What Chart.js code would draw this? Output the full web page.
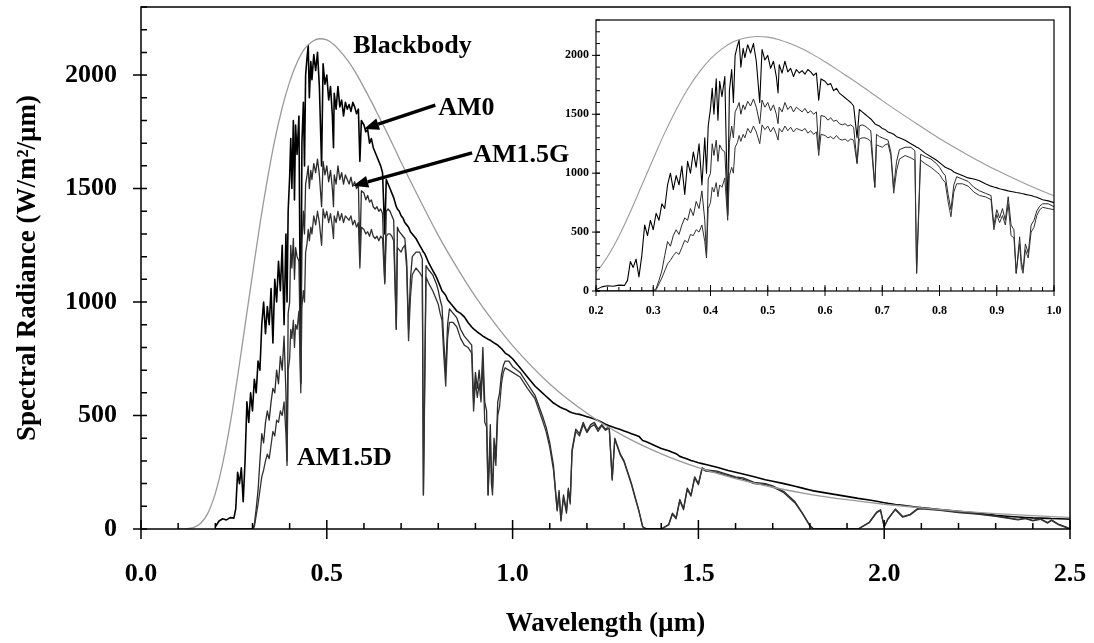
<!DOCTYPE html>
<html>
<head>
<meta charset="utf-8">
<title>Solar spectrum</title>
<script src="https://cdn.jsdelivr.net/npm/chart.js@4.4.0/dist/chart.umd.min.js"></script>
<style>
  html, body { margin: 0; padding: 0; background: #fff; }
  #wrap { position: relative; width: 1094px; height: 643px; }
  #main { position: absolute; left: 0; top: 0; }
  #inset { position: absolute; left: 540px; top: 10px; }
</style>
</head>
<body>
<div id="wrap">
  <canvas id="main" width="1094" height="643"></canvas>
  <canvas id="inset" width="525" height="320"></canvas>
</div>
<script>
// wavelength grid (µm) shared by the three measured spectra
const wavelength = [
  0.20, 0.21, 0.22, 0.23, 0.24, 0.25, 0.255, 0.26, 0.265, 0.27,
  0.275, 0.28, 0.285, 0.29, 0.295, 0.30, 0.305, 0.31, 0.315, 0.32,
  0.325, 0.33, 0.335, 0.34, 0.345, 0.35, 0.355, 0.36, 0.365, 0.37,
  0.375, 0.38, 0.385, 0.39, 0.393, 0.396, 0.40, 0.403, 0.406, 0.41,
  0.413, 0.416, 0.42, 0.425, 0.43, 0.433, 0.437, 0.44, 0.443, 0.447,
  0.45, 0.453, 0.457, 0.46, 0.465, 0.47, 0.475, 0.48, 0.486, 0.49,
  0.495, 0.50, 0.505, 0.51, 0.515, 0.518, 0.52, 0.525, 0.53, 0.535,
  0.54, 0.545, 0.55, 0.555, 0.56, 0.565, 0.57, 0.575, 0.58, 0.585,
  0.589, 0.593, 0.60, 0.605, 0.61, 0.615, 0.62, 0.625, 0.63, 0.635,
  0.64, 0.645, 0.65, 0.656, 0.66, 0.665, 0.67, 0.675, 0.68, 0.687,
  0.69, 0.695, 0.70, 0.705, 0.71, 0.715, 0.72, 0.725, 0.73, 0.74,
  0.75, 0.757, 0.76, 0.763, 0.767, 0.775, 0.785, 0.795, 0.80, 0.805,
  0.81, 0.815, 0.82, 0.825, 0.83, 0.84, 0.85, 0.86, 0.87, 0.88,
  0.89, 0.895, 0.90, 0.905, 0.91, 0.915, 0.92, 0.925, 0.93, 0.934,
  0.94, 0.943, 0.946, 0.95, 0.955, 0.96, 0.965, 0.97, 0.975, 0.98,
  0.99, 1.00, 1.02, 1.04, 1.06, 1.08, 1.09, 1.10, 1.11, 1.115,
  1.12, 1.125, 1.13, 1.137, 1.145, 1.15, 1.155, 1.16, 1.17, 1.18,
  1.19, 1.20, 1.21, 1.22, 1.23, 1.24, 1.25, 1.26, 1.268, 1.275,
  1.29, 1.30, 1.31, 1.32, 1.33, 1.34, 1.35, 1.36, 1.40, 1.42,
  1.43, 1.44, 1.45, 1.46, 1.47, 1.48, 1.49, 1.50, 1.51, 1.52,
  1.55, 1.58, 1.60, 1.62, 1.65, 1.68, 1.70, 1.73, 1.76, 1.78,
  1.80, 1.81, 1.93, 1.96, 1.98, 1.99, 2.00, 2.01, 2.03, 2.05,
  2.07, 2.09, 2.10, 2.15, 2.20, 2.25, 2.30, 2.33, 2.36, 2.38,
  2.40, 2.42, 2.44, 2.45, 2.47, 2.49, 2.50,
];

const am0 = [
  10, 35, 45, 40, 50, 48, 90, 250, 200, 270,
  120, 300, 560, 470, 600, 520, 660, 600, 740, 700,
  900, 1000, 860, 980, 900, 1060, 820, 1100, 1000, 1180,
  1050, 1250, 900, 1300, 1000, 1400, 1550, 1720, 1500, 1800,
  1450, 1780, 1650, 1820, 640, 1700, 1880, 1600, 2000, 2080,
  2130, 1900, 2060, 1980, 2090, 2020, 2100, 1950, 1600, 2050,
  1960, 2000, 1890, 1950, 1820, 1680, 1920, 1850, 1950, 1860,
  1890, 1820, 1880, 1850, 1870, 1840, 1880, 1860, 1830, 1850,
  1620, 1800, 1780, 1750, 1760, 1700, 1720, 1680, 1660, 1640,
  1620, 1600, 1570, 1300, 1540, 1520, 1500, 1480, 1460, 1420,
  1410, 1400, 1380, 1370, 1350, 1340, 1330, 1310, 1300, 1280,
  1250, 1230, 1220, 1215, 1200, 1170, 1140, 1110, 1090, 1070,
  1050, 1040, 1030, 1010, 1000, 980, 960, 950, 935, 910,
  890, 882, 875, 868, 862, 856, 850, 845, 840, 836,
  832, 828, 825, 820, 815, 810, 802, 795, 785, 775,
  765, 750, 710, 670, 630, 600, 585, 570, 555, 550,
  545, 540, 535, 530, 525, 520, 515, 512, 508, 505,
  500, 495, 490, 485, 478, 470, 462, 455, 450, 446,
  438, 432, 426, 420, 414, 408, 390, 384, 355, 345,
  338, 332, 320, 314, 308, 302, 297, 292, 288, 284,
  272, 258, 250, 242, 230, 217, 210, 200, 188, 180,
  172, 168, 135, 128, 122, 119, 116, 113, 108, 104,
  100, 96, 94, 86, 78, 70, 60, 56, 53, 51,
  49, 48, 47, 46, 45, 44, 43,
];

const am15g = [
  0, 0, 0, 0, 0, 0, 0, 0, 0, 0,
  0, 0, 0, 0, 0, 0, 20, 90, 170, 300,
  420, 380, 470, 520, 480, 560, 620, 600, 700, 640,
  760, 700, 850, 600, 300, 950, 1000, 1250, 1150, 1280,
  1100, 1240, 1200, 1180, 650, 1260, 1400, 1300, 1520, 1560,
  1600, 1500, 1580, 1540, 1610, 1570, 1630, 1560, 1420, 1620,
  1560, 1600, 1530, 1580, 1500, 1420, 1560, 1520, 1600, 1540,
  1570, 1520, 1560, 1540, 1520, 1550, 1510, 1530, 1500, 1520,
  1200, 1490, 1480, 1450, 1470, 1440, 1450, 1420, 1410, 1420,
  1400, 1410, 1390, 1090, 1400, 1410, 1400, 1380, 1360, 880,
  1330, 1310, 1300, 1290, 1280, 1180, 880, 1100, 1200, 1220,
  1220, 1190, 150, 600, 1160, 1140, 1120, 1080, 1050, 1010,
  980, 820, 690, 900, 970, 950, 930, 880, 850, 830,
  810, 560, 690, 620, 700, 600, 800, 560, 520, 150,
  460, 250, 180, 400, 320, 560, 600, 680, 720, 740,
  740, 715, 690, 640, 590, 500, 450, 380, 280, 180,
  85, 170, 40, 150, 80, 180, 120, 350, 440, 420,
  470, 430, 460, 470, 440, 460, 440, 450, 220, 400,
  330, 300, 250, 200, 140, 80, 10, 0, 0, 20,
  70, 50, 130, 90, 180, 150, 230, 200, 270, 260,
  255, 240, 230, 225, 205, 200, 190, 165, 120, 70,
  15, 0, 0, 30, 75, 85, 10, 45, 88, 55,
  65, 90, 92, 84, 74, 68, 58, 50, 42, 48,
  38, 45, 28, 40, 20, 8, 0,
];

const am15d = [
  0, 0, 0, 0, 0, 0, 0, 0, 0, 0,
  0, 0, 0, 0, 0, 0, 10, 60, 110, 170,
  230, 260, 300, 330, 310, 370, 430, 410, 480, 470,
  520, 500, 560, 420, 280, 700, 750, 880, 840, 920,
  800, 900, 880, 960, 600, 980, 1050, 1000, 1220, 1260,
  1320, 1270, 1330, 1300, 1380, 1340, 1400, 1350, 1250, 1410,
  1370, 1400, 1350, 1390, 1330, 1280, 1380, 1350, 1400, 1360,
  1390, 1350, 1380, 1370, 1360, 1380, 1340, 1360, 1330, 1350,
  1150, 1330, 1320, 1300, 1310, 1290, 1320, 1290, 1280, 1290,
  1270, 1290, 1280, 1080, 1290, 1300, 1300, 1290, 1270, 880,
  1240, 1230, 1220, 1240, 1250, 1150, 830, 1020, 1120, 1150,
  1130, 1110, 150, 550, 1110, 1080, 1050, 1010, 990, 950,
  920, 760, 630, 840, 910, 910, 890, 840, 810, 800,
  775, 520, 650, 580, 640, 560, 740, 470, 450, 150,
  400, 200, 150, 350, 280, 500, 540, 640, 690, 710,
  700, 690, 670, 620, 575, 480, 430, 360, 260, 170,
  80, 160, 35, 140, 70, 170, 110, 340, 430, 410,
  460, 425, 450, 460, 430, 455, 435, 445, 215, 395,
  325, 295, 245, 195, 135, 78, 10, 0, 0, 18,
  65, 45, 125, 85, 175, 145, 225, 195, 265, 255,
  250, 235, 225, 220, 200, 195, 185, 160, 115, 68,
  14, 0, 0, 28, 72, 82, 9, 43, 85, 52,
  62, 87, 89, 82, 72, 66, 56, 48, 40, 46,
  36, 43, 26, 38, 18, 6, 0,
];

// smooth blackbody curve, read at coarser steps
const bbWavelength = [
  0.10, 0.12, 0.14, 0.16, 0.18, 0.20, 0.22, 0.24, 0.26, 0.28,
  0.30, 0.32, 0.34, 0.36, 0.38, 0.40, 0.42, 0.44, 0.46, 0.48,
  0.50, 0.52, 0.54, 0.56, 0.58, 0.60, 0.62, 0.64, 0.66, 0.68,
  0.70, 0.75, 0.80, 0.85, 0.90, 0.95, 1.0, 1.1, 1.2, 1.3,
  1.4, 1.5, 1.6, 1.7, 1.8, 1.9, 2.0, 2.1, 2.2, 2.3,
  2.4, 2.5,
];
const blackbody = [
  0, 1, 6, 24, 70, 157, 290, 464, 672, 897,
  1122, 1342, 1539, 1713, 1856, 1970, 2055, 2115, 2147, 2160,
  2155, 2133, 2098, 2056, 2004, 1945, 1883, 1818, 1753, 1685,
  1616, 1452, 1294, 1153, 1024, 910, 808, 639, 510, 409,
  331, 270, 222, 184, 153, 129, 109, 93, 79, 68,
  59, 51,
];

const mainXTicks = [0, 0.5, 1.0, 1.5, 2.0, 2.5];
const mainYTicks = [0, 500, 1000, 1500, 2000];
const insetXTicks = [0.2, 0.3, 0.4, 0.5, 0.6, 0.7, 0.8, 0.9, 1.0];
const insetYTicks = [0, 500, 1000, 1500, 2000];

// text callouts, in data units of the main chart
const seriesLabels = [
  { text: 'Blackbody', x: 0.571, y: 2127 },
  { text: 'AM0', x: 0.80, y: 1855 },
  { text: 'AM1.5G', x: 0.894, y: 1648 },
  { text: 'AM1.5D', x: 0.42, y: 312 },
];
const arrows = [
  { from: [0.792, 1868], to: [0.600, 1763] },
  { from: [0.891, 1657], to: [0.571, 1512] },
];

const SERIF = '"Liberation Serif", "Times New Roman", serif';
Chart.defaults.font.family = SERIF;
Chart.defaults.font.weight = 'bold';
Chart.defaults.color = '#000';

const pts = (xs, ys) => xs.map((x, i) => ({ x, y: ys[i] }));

const makeDatasets = (w) => [
  { label: 'Blackbody', data: pts(bbWavelength, blackbody), borderColor: '#9a9a9a', borderWidth: w.bb, cubicInterpolationMode: 'monotone' },
  { label: 'AM1.5D', data: pts(wavelength, am15d), borderColor: '#333', borderWidth: w.am15 },
  { label: 'AM1.5G', data: pts(wavelength, am15g), borderColor: '#2b2b2b', borderWidth: w.am15 },
  { label: 'AM0', data: pts(wavelength, am0), borderColor: '#000', borderWidth: w.am0 },
];

const stepsOf = (scale, step) => {
  const n = Math.round((scale.max - scale.min) / step);
  const out = [];
  for (let i = 0; i <= n; i++) out.push(scale.min + i * step);
  return out;
};

// the fixed layout padding places the plot box, so drop the label overhang chart.js asks for
const noOverhang = (s) => {
  s.paddingTop = 0;
  s.paddingBottom = 0;
  s.paddingLeft = 0;
  s.paddingRight = 0;
};

// box frame + ticks: majors cross the axis, minors point inward
const tickMarks = {
  id: 'tickMarks',
  afterDatasetsDraw(chart, args, o) {
    const { ctx, chartArea: a, scales: { x, y } } = chart;
    ctx.save();
    ctx.strokeStyle = '#000';
    ctx.lineWidth = o.width;
    ctx.beginPath();
    stepsOf(x, o.xMinor).forEach((v) => {
      const px = x.getPixelForValue(v);
      ctx.moveTo(px, a.bottom);
      ctx.lineTo(px, a.bottom - o.minorIn);
    });
    stepsOf(y, o.yMinor).forEach((v) => {
      const py = y.getPixelForValue(v);
      ctx.moveTo(a.left, py);
      ctx.lineTo(a.left + o.minorIn, py);
    });
    x.ticks.forEach((t) => {
      const px = x.getPixelForValue(t.value);
      ctx.moveTo(px, a.bottom + o.xMajorOut);
      ctx.lineTo(px, a.bottom - o.xMajorIn);
    });
    y.ticks.forEach((t) => {
      const py = y.getPixelForValue(t.value);
      ctx.moveTo(a.left - o.yMajorOut, py);
      ctx.lineTo(a.left + o.yMajorIn, py);
    });
    ctx.stroke();
    ctx.lineWidth = o.frame;
    ctx.strokeRect(a.left, a.top, a.right - a.left, a.bottom - a.top);
    ctx.restore();
  },
};

const callouts = {
  id: 'callouts',
  afterDatasetsDraw(chart) {
    const { ctx, scales: { x, y } } = chart;
    ctx.save();
    ctx.fillStyle = '#000';
    ctx.strokeStyle = '#000';
    ctx.font = `bold 26px ${SERIF}`;
    ctx.textBaseline = 'middle';
    seriesLabels.forEach((l) => ctx.fillText(l.text, x.getPixelForValue(l.x), y.getPixelForValue(l.y)));

    arrows.forEach((ar) => {
      const x0 = x.getPixelForValue(ar.from[0]);
      const y0 = y.getPixelForValue(ar.from[1]);
      const x1 = x.getPixelForValue(ar.to[0]);
      const y1 = y.getPixelForValue(ar.to[1]);
      const ang = Math.atan2(y1 - y0, x1 - x0);
      const head = 15;
      const half = 6;
      const bx = x1 - head * Math.cos(ang);
      const by = y1 - head * Math.sin(ang);
      ctx.lineWidth = 3.5;
      ctx.beginPath();
      ctx.moveTo(x0, y0);
      ctx.lineTo(bx, by);
      ctx.stroke();
      ctx.beginPath();
      ctx.moveTo(x1, y1);
      ctx.lineTo(bx + half * Math.sin(ang), by - half * Math.cos(ang));
      ctx.lineTo(bx - half * Math.sin(ang), by + half * Math.cos(ang));
      ctx.closePath();
      ctx.fill();
    });
    ctx.restore();
  },
};

const whiteArea = {
  id: 'whiteArea',
  beforeDatasetsDraw(chart) {
    const { ctx, chartArea: a } = chart;
    ctx.save();
    ctx.fillStyle = '#fff';
    ctx.fillRect(a.left, a.top, a.right - a.left, a.bottom - a.top);
    ctx.restore();
  },
};

const baseOptions = {
  responsive: false,
  animation: false,
  events: [],
  parsing: false,
  normalized: true,
  elements: {
    point: { radius: 0 },
    line: { tension: 0, borderJoinStyle: 'round', fill: false },
  },
};

new Chart(document.getElementById('main'), {
  type: 'line',
  data: { datasets: makeDatasets({ bb: 1.3, am15: 1.3, am0: 1.6 }) },
  options: {
    ...baseOptions,
    layout: { padding: { top: 7, right: 24, bottom: 0, left: 0 } },
    plugins: {
      legend: { display: false },
      tooltip: { enabled: false },
      tickMarks: { width: 1.5, frame: 1.5, xMinor: 0.1, yMinor: 100, minorIn: 6, xMajorIn: 9, xMajorOut: 10, yMajorIn: 6, yMajorOut: 8 },
    },
    scales: {
      x: {
        type: 'linear',
        min: 0,
        max: 2.5,
        grid: { display: false, drawTicks: false },
        border: { display: false },
        afterBuildTicks: (s) => { s.ticks = mainXTicks.map((value) => ({ value })); },
        afterFit: (s) => { s.height = 114; noOverhang(s); },
        ticks: { padding: 30, maxRotation: 0, autoSkip: false, font: { size: 26, weight: 'bold' }, callback: (v) => Number(v).toFixed(1) },
        title: { display: true, text: 'Wavelength (µm)', font: { size: 27, weight: 'bold' }, padding: { top: 0, bottom: 3 } },
      },
      y: {
        type: 'linear',
        min: 0,
        max: 2300,
        grid: { display: false, drawTicks: false },
        border: { display: false },
        afterBuildTicks: (s) => { s.ticks = mainYTicks.map((value) => ({ value })); },
        afterFit: (s) => { s.width = 141; noOverhang(s); },
        ticks: { padding: 24, autoSkip: false, font: { size: 26, weight: 'bold' }, callback: (v) => String(v) },
        title: { display: true, text: 'Spectral Radiance (W/m²/µm)', font: { size: 27, weight: 'bold' }, padding: { top: 12, bottom: 0 } },
      },
    },
  },
  plugins: [tickMarks, callouts],
});

new Chart(document.getElementById('inset'), {
  type: 'line',
  data: { datasets: makeDatasets({ bb: 1.1, am15: 1.0, am0: 1.1 }) },
  options: {
    ...baseOptions,
    layout: { padding: { top: 10, right: 11, bottom: 0, left: 0 } },
    plugins: {
      legend: { display: false },
      tooltip: { enabled: false },
      tickMarks: { width: 1, frame: 1.2, xMinor: 0.02, yMinor: 100, minorIn: 4, xMajorIn: 6, xMajorOut: 5, yMajorIn: 4, yMajorOut: 4 },
    },
    scales: {
      x: {
        type: 'linear',
        min: 0.2,
        max: 1.0,
        grid: { display: false, drawTicks: false },
        border: { display: false },
        afterBuildTicks: (s) => { s.ticks = insetXTicks.map((value) => ({ value })); },
        afterFit: (s) => { s.height = 39; noOverhang(s); },
        ticks: { padding: 13, maxRotation: 0, autoSkip: false, font: { size: 12, weight: 'bold' }, callback: (v) => Number(v).toFixed(1) },
      },
      y: {
        type: 'linear',
        min: 0,
        max: 2300,
        grid: { display: false, drawTicks: false },
        border: { display: false },
        afterBuildTicks: (s) => { s.ticks = insetYTicks.map((value) => ({ value })); },
        afterFit: (s) => { s.width = 56; noOverhang(s); },
        ticks: { padding: 7, autoSkip: false, font: { size: 12, weight: 'bold' }, callback: (v) => String(v) },
      },
    },
  },
  plugins: [whiteArea, tickMarks],
});
</script>
</body>
</html>
